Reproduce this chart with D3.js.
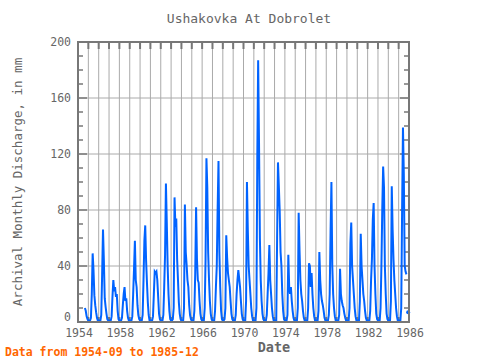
<!DOCTYPE html>
<html><head><meta charset="utf-8">
<script src="https://cdn.jsdelivr.net/npm/d3@7"></script>
<style>body{margin:0;background:#fff}svg{display:block}</style>
</head><body>
<svg id="c" width="480" height="360"></svg>
<script>
const title = "Ushakovka At Dobrolet";
const yLabel = "Archival Monthly Discharge, in mm";
const xLabel = "Date";
const footer = "Data from 1954-09 to 1985-12";
const xTicks = [1954,1958,1962,1966,1970,1974,1978,1982,1986];
const yTicks = [0,40,80,120,160,200];
const startYear = 1954, startMonth = 8; // September 1954 (0-based month)
// monthly discharge, mm; one row per year (1954 starts in September)
const y1954 = [10,8,4,2];
const y1955 = [1,1,1,3,20,49,37,19,12,7,3,1];
const y1956 = [1,1,1,5,34,66,44,17,11,6,2,1];
const y1957 = [1,1,1,4,18,30,22,25,18,20,8,2];
const y1958 = [1,1,1,3,12,20,25,15,17,8,3,1];
const y1959 = [1,1,1,4,20,38,58,30,25,12,5,2];
const y1960 = [1,1,1,5,30,58,69,44,28,14,5,1];
const y1961 = [1,1,1,4,20,36,35,36,30,18,6,2];
const y1962 = [1,1,1,5,25,48,99,71,40,20,8,2];
const y1963 = [1,1,2,10,89,68,74,45,30,14,6,2];
const y1964 = [1,1,1,10,84,50,41,30,25,12,5,2];
const y1965 = [1,1,1,8,35,82,45,30,28,15,6,2];
const y1966 = [1,1,1,10,45,117,96,50,30,15,6,2];
const y1967 = [1,1,1,8,25,40,81,115,50,25,8,2];
const y1968 = [1,1,2,10,62,46,35,30,25,15,6,2];
const y1969 = [1,1,1,5,20,30,37,31,25,15,6,2];
const y1970 = [1,1,1,15,100,66,40,30,20,10,4,1];
const y1971 = [1,1,1,10,117,187,128,60,30,15,6,2];
const y1972 = [1,1,1,5,20,35,55,30,20,10,4,1];
const y1973 = [1,1,1,60,114,97,79,50,40,20,8,2];
const y1974 = [1,1,1,5,48,25,20,25,15,8,3,1];
const y1975 = [1,1,1,10,78,51,30,20,15,8,3,1];
const y1976 = [1,1,1,10,42,40,25,35,20,10,4,1];
const y1977 = [1,1,1,8,50,30,20,15,12,8,3,1];
const y1978 = [1,1,1,5,20,64,100,40,20,10,4,1];
const y1979 = [1,1,1,5,38,20,15,12,10,6,3,1];
const y1980 = [1,1,1,10,56,71,40,30,20,10,4,1];
const y1981 = [1,1,1,15,63,40,30,20,15,8,3,1];
const y1982 = [1,1,1,8,30,45,73,85,40,20,6,2];
const y1983 = [1,1,1,10,40,81,111,96,40,20,6,2];
const y1984 = [1,1,1,15,97,66,45,30,20,10,4,1];
const y1985 = [1,1,1,10,80,139,105,40,36,34,null,7];
const years = [y1954,y1955,y1956,y1957,y1958,y1959,y1960,y1961,y1962,y1963,y1964,y1965,y1966,y1967,y1968,y1969,y1970,y1971,y1972,y1973,y1974,y1975,y1976,y1977,y1978,y1979,y1980,y1981,y1982,y1983,y1984,y1985];

const data = [];
years.forEach((arr, i) => {
  const m0 = i === 0 ? startMonth : 0;
  arr.forEach((v, j) => data.push({t: startYear + i + (m0 + j) / 12, v: v}));
});

const svg = d3.select("#c");
const L = 78, R = 409, T = 42, B = 322;
const x = d3.scaleLinear().domain([1954, 1986]).range([L, R]);
const y = d3.scaleLinear().domain([0, 200]).range([B, T]);
const grey = "#777", grid = "#aaa", txt = "#666";
const mono = "'DejaVu Sans Mono', monospace";

// gridlines
svg.append("g").selectAll("line").data(d3.range(1955, 1986)).join("line")
  .attr("x1", d => x(d)).attr("x2", d => x(d)).attr("y1", T).attr("y2", B)
  .attr("stroke", grid).attr("stroke-width", 1);
svg.append("g").selectAll("line").data([40,80,120,160]).join("line")
  .attr("x1", L).attr("x2", R).attr("y1", d => y(d)).attr("y2", d => y(d))
  .attr("stroke", grid).attr("stroke-width", 1);

// year ticks top & bottom
const yrs = d3.range(1955, 1986);
svg.append("g").selectAll("line").data(yrs).join("line")
  .attr("x1", d => x(d)).attr("x2", d => x(d)).attr("y1", T).attr("y2", T + 7)
  .attr("stroke", grey).attr("stroke-width", 2);
svg.append("g").selectAll("line").data(yrs).join("line")
  .attr("x1", d => x(d)).attr("x2", d => x(d)).attr("y1", B).attr("y2", B - 5)
  .attr("stroke", grey).attr("stroke-width", 2);
// minor ticks left & right
const minor = d3.range(10, 200, 10);
svg.append("g").selectAll("line").data(minor).join("line")
  .attr("x1", L).attr("x2", d => L + (d % 40 === 0 ? 9 : 5)).attr("y1", d => y(d)).attr("y2", d => y(d))
  .attr("stroke", grey).attr("stroke-width", 1.5);
svg.append("g").selectAll("line").data(minor).join("line")
  .attr("x1", R).attr("x2", d => R - (d % 40 === 0 ? 9 : 5)).attr("y1", d => y(d)).attr("y2", d => y(d))
  .attr("stroke", grey).attr("stroke-width", 1.5);

// data line
const line = d3.line().defined(d => d.v != null).x(d => x(d.t)).y(d => y(d.v));
svg.append("path").datum(data).attr("d", line)
  .attr("fill", "none").attr("stroke", "#0063ff").attr("stroke-width", 2);
// isolated points
const iso = data.filter((d, i) => d.v != null &&
  (i === 0 || data[i-1].v == null) && (i === data.length - 1 || data[i+1].v == null));
svg.append("g").selectAll("circle").data(iso).join("circle")
  .attr("cx", d => x(d.t)).attr("cy", d => y(d.v)).attr("r", 2).attr("fill", "#0063ff");

// frame
svg.append("rect").attr("x", L).attr("y", T).attr("width", R - L).attr("height", B - T)
  .attr("fill", "none").attr("stroke", grey).attr("stroke-width", 2);

// tick labels
svg.append("g").selectAll("text").data(yTicks).join("text")
  .attr("x", L - 7).attr("y", d => d === 0 ? y(d) - 5 : y(d))
  .attr("dy", "0.35em").attr("text-anchor", "end")
  .attr("font-family", mono).attr("font-size", 11.5).attr("fill", txt).text(d => d);
svg.append("g").selectAll("text").data(xTicks).join("text")
  .attr("x", d => x(d) + 1).attr("y", 333).attr("dy", "0.35em").attr("text-anchor", "middle")
  .attr("font-family", mono).attr("font-size", 11.5).attr("fill", txt).text(d => d);

// titles
svg.append("text").attr("x", 249).attr("y", 18).attr("dy", "0.35em").attr("text-anchor", "middle")
  .attr("font-family", mono).attr("font-size", 13).attr("fill", txt).text(title);
svg.append("text").attr("transform", "translate(18,182) rotate(-90)").attr("dy", "0.35em")
  .attr("text-anchor", "middle").attr("font-family", mono).attr("font-size", 12.5)
  .attr("fill", txt).text(yLabel);
svg.append("text").attr("x", 274).attr("y", 347).attr("dy", "0.35em").attr("text-anchor", "middle")
  .attr("font-family", mono).attr("font-size", 13.5).attr("font-weight", "bold").attr("fill", txt).text(xLabel);
svg.append("text").attr("x", 5).attr("y", 352).attr("dy", "0.35em").attr("text-anchor", "start")
  .attr("font-family", mono).attr("font-size", 11.5).attr("font-weight", "bold").attr("fill", "#ff6600").text(footer);
</script>
</body></html>
